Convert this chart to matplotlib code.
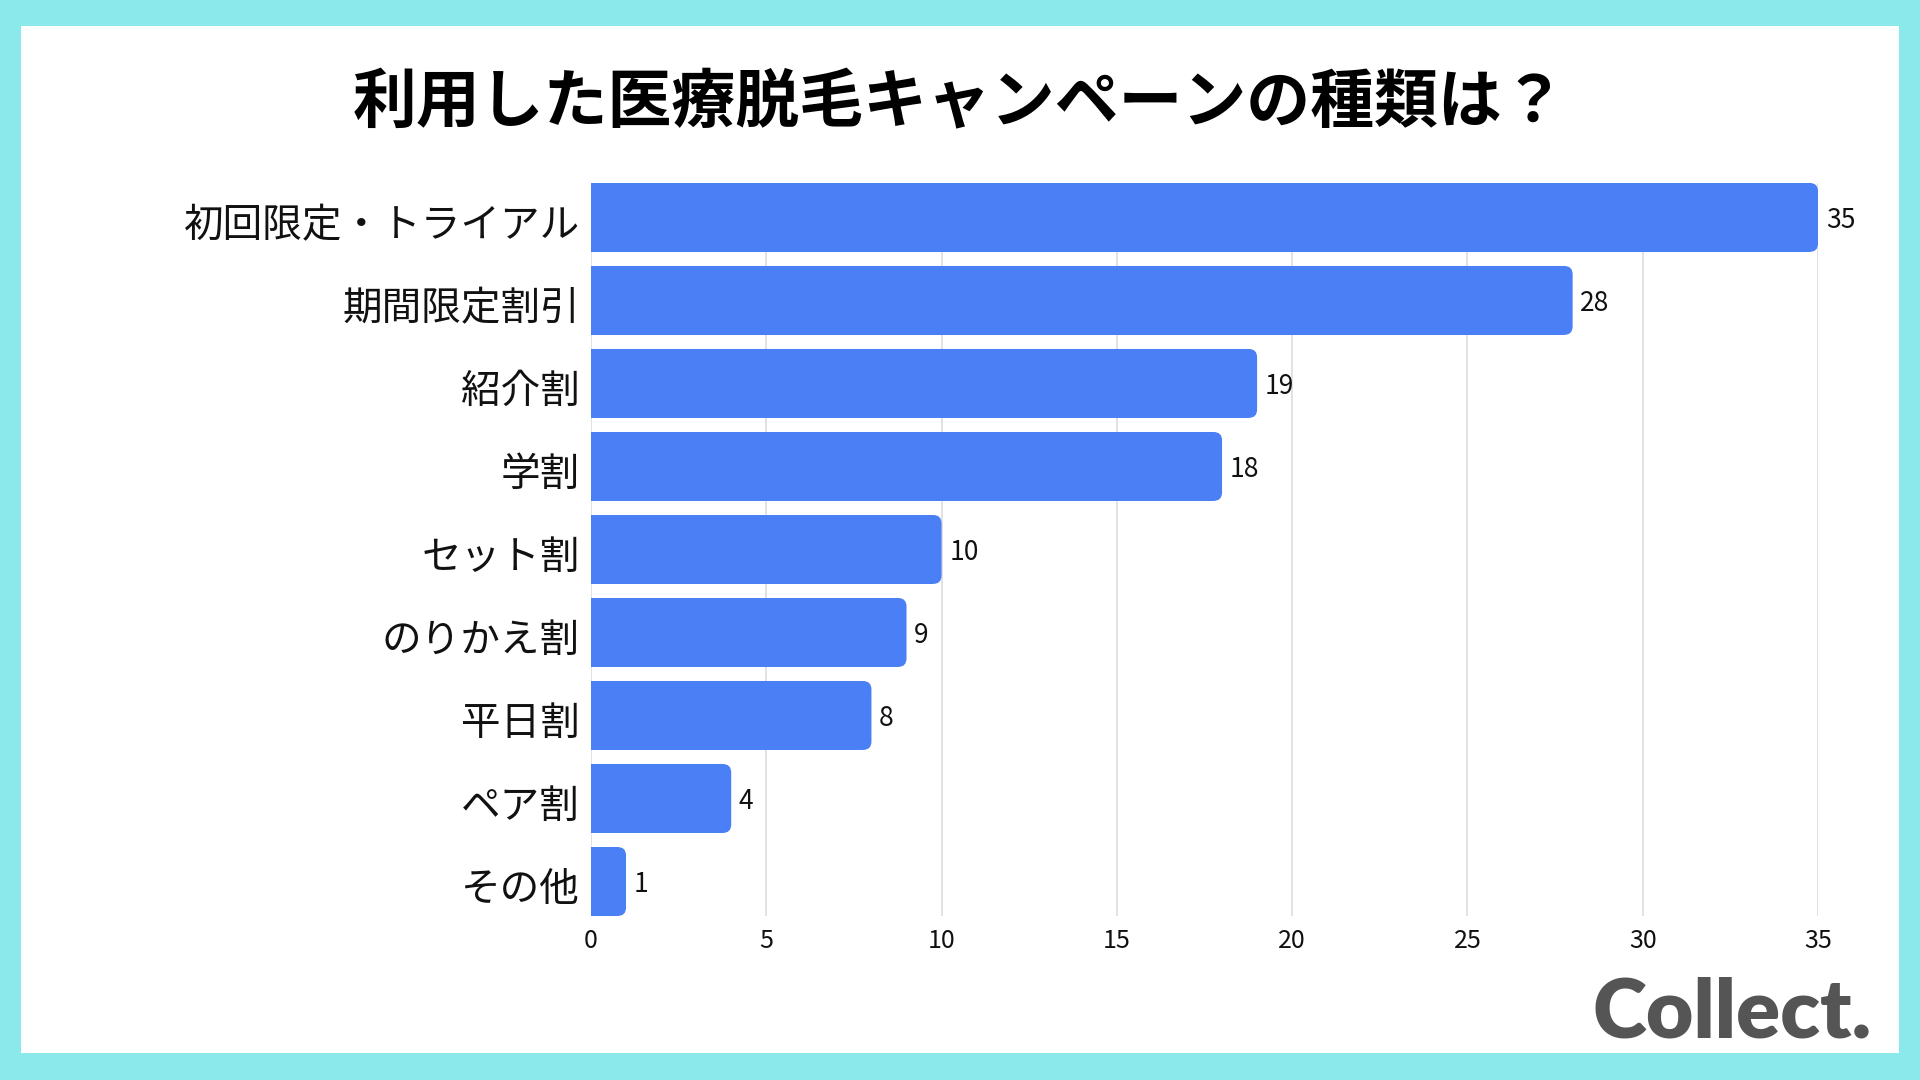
import matplotlib
matplotlib.use("Agg")
import matplotlib.pyplot as plt
import matplotlib.transforms as mtransforms
from matplotlib.patches import FancyBboxPatch, Rectangle

plt.rcParams['font.family'] = ['Noto Sans CJK JP', 'DejaVu Sans']

title = "利用した医療脱毛キャンペーンの種類は？"
categories = ["初回限定・トライアル", "期間限定割引", "紹介割", "学割", "セット割",
              "のりかえ割", "平日割", "ペア割", "その他"]
counts = [35, 28, 19, 18, 10, 9, 8, 4, 1]
xticks = [0, 5, 10, 15, 20, 25, 30, 35]

bar_color = "#4A7FF5"
frame_color = "#8BE9EC"

fig = plt.figure(figsize=(19.2, 10.8), dpi=100, facecolor=frame_color)
fig.patches.append(Rectangle((0.0109, 0.025), 0.978, 0.951, transform=fig.transFigure,
                             facecolor="white", edgecolor="none", zorder=0))

ax = fig.add_axes([0.3078, 0.1519, 0.6391, 0.6787])
ax.set_zorder(2)
ax.set_facecolor("none")

h = 0.83
pos = list(range(len(categories)))
bars = ax.barh(pos, counts, height=h, color=bar_color, zorder=3)

ax.set_xlim(0, 35)
ax.set_ylim(len(categories) - 1 + h / 2, -h / 2)

# rounded right ends
r = 0.24
aspect = (1 / 83) / (35 / 1227)
for b in bars:
    x, y, w, hh = b.get_x(), b.get_y(), b.get_width(), b.get_height()
    b.set_width(max(w - r, 0))
    ax.add_patch(FancyBboxPatch((x, y), w, hh, boxstyle=f"round,pad=0,rounding_size={r}",
                                mutation_aspect=aspect, facecolor=bar_color,
                                edgecolor="none", zorder=3))

for i, v in enumerate(counts):
    ax.text(v + 0.22, i, str(v), va="center_baseline", ha="left", fontsize=19, color="#111111")

ax.set_yticks(pos)
ax.set_yticklabels(categories, fontsize=28.5, color="#111111")
ax.set_xticks(xticks)
ax.set_xticklabels([str(t) for t in xticks], fontsize=18, color="#111111")
ax.tick_params(axis="both", length=0)
ax.tick_params(axis="y", pad=8)
ax.tick_params(axis="x", pad=9)
ax.grid(axis="x", color="#DDDDDD", linewidth=1.2, zorder=0)
for s in ax.spines.values():
    s.set_visible(False)

shift = mtransforms.ScaledTranslation(0, -4 / 100, fig.dpi_scale_trans)
for lab in ax.get_yticklabels():
    lab.set_transform(lab.get_transform() + shift)

fig.text(0.5, 0.9037, title, ha="center", va="center", fontsize=46,
         fontweight="bold", color="#000000")

fig.text(0.8292, 0.0389, "Collect.", ha="left", va="baseline", fontsize=59,
         fontweight="heavy", family="Lato", color="#555555")

fig.savefig("out.png", dpi=100, facecolor=frame_color)
